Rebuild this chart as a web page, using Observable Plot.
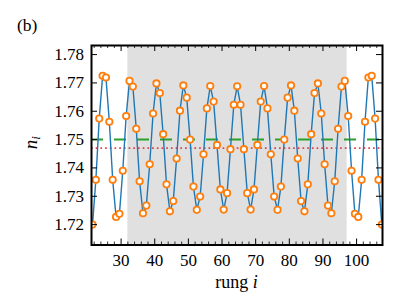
<!DOCTYPE html>
<html><head><meta charset="utf-8">
<script src="https://cdn.jsdelivr.net/npm/d3@7"></script>
<script src="https://cdn.jsdelivr.net/npm/@observablehq/plot@0.6"></script>
<style>body{margin:0;background:#fff}#chart{width:415px;height:305px}</style>
</head><body><div id="chart"></div>
<script>
const rungs = [21.5,22.5,23.5,24.5,25.5,26.5,27.5,28.5,29.5,30.5,31.5,32.5,33.5,34.5,35.5,36.5,37.5,38.5,39.5,40.5,
41.5,42.5,43.5,44.5,45.5,46.5,47.5,48.5,49.5,50.5,51.5,52.5,53.5,54.5,55.5,56.5,57.5,58.5,59.5,60.5,
61.5,62.5,63.5,64.5,65.5,66.5,67.5,68.5,69.5,70.5,71.5,72.5,73.5,74.5,75.5,76.5,77.5,78.5,79.5,80.5,
81.5,82.5,83.5,84.5,85.5,86.5,87.5,88.5,89.5,90.5,91.5,92.5,93.5,94.5,95.5,96.5,97.5,98.5,99.5,100.5,
101.5,102.5,103.5,104.5,105.5,106.5,107.5];
const density = [1.7200,1.7358,1.7574,1.7725,1.7719,1.7563,1.7358,1.7227,1.7238,1.7390,
1.7583,1.7707,1.7687,1.7538,1.7353,1.7240,1.7267,1.7413,1.7592,1.7698,
1.7664,1.7519,1.7342,1.7247,1.7283,1.7433,1.7602,1.7691,1.7648,1.7500,
1.7334,1.7252,1.7299,1.7448,1.7610,1.7689,1.7634,1.7481,1.7324,1.7253,
1.7311,1.7466,1.7623,1.7688,
1.7623,1.7466,1.7311,1.7253,1.7324,1.7481,1.7634,1.7689,1.7610,1.7448,
1.7299,1.7252,1.7334,1.7500,1.7648,1.7691,1.7602,1.7433,1.7283,1.7247,
1.7342,1.7519,1.7664,1.7698,1.7592,1.7413,1.7267,1.7240,1.7353,1.7538,
1.7687,1.7707,1.7583,1.7390,1.7238,1.7227,1.7358,1.7563,1.7719,1.7725,
1.7574,1.7358,1.7200];
const xMajorTicks = [30,40,50,60,70,80,90,100];
const xMinorTicks = [22,24,26,28,32,34,36,38,42,44,46,48,52,54,56,58,62,64,66,68,72,74,76,78,82,84,86,88,92,94,96,98,102,104,106];
const yTicks = [1.72,1.73,1.74,1.75,1.76,1.77,1.78];
const shadedRegion = [32, 97.2];
const targetDensity = 1.75;
const meanDensity = 1.747;

const data = rungs.map((x, i) => ({x, y: density[i]}));
const W = 415, H = 305, mL = 91, mR = 33, mT = 45, mB = 60.5;
const fH = H - mT - mB, fW = W - mL - mR;
const font = "Liberation Serif, serif";

const plot = Plot.plot({
  width: W, height: H,
  marginLeft: mL, marginRight: mR, marginTop: mT, marginBottom: mB,
  style: {fontFamily: font, background: "white", color: "black"},
  x: {domain: [21.2, 107.7]},
  y: {domain: [1.7128, 1.7832]},
  marks: [
    Plot.rect([shadedRegion], {x1: d => d[0], x2: d => d[1], fill: "#e0e0e0"}),
    Plot.ruleY([targetDensity], {stroke: "#2ca02c", strokeWidth: 2, strokeDasharray: "12,11"}),
    Plot.ruleY([meanDensity], {stroke: "#e0404a", strokeWidth: 1.8, strokeDasharray: "1.7,3"}),
    Plot.line(data, {x: "x", y: "y", stroke: "#1f77b4", strokeWidth: 1.4, clip: true}),
    Plot.dot(data, {x: "x", y: "y", r: 3.2, stroke: "#ff7f0e", strokeWidth: 1.8, fill: "white", clip: true}),
    Plot.tickX(xMajorTicks, {x: d => d, stroke: "black", strokeWidth: 1, insetTop: fH - 6}),
    Plot.tickX(xMajorTicks, {x: d => d, stroke: "black", strokeWidth: 1, insetBottom: fH - 6}),
    Plot.tickX(xMinorTicks, {x: d => d, stroke: "black", strokeWidth: 0.8, insetTop: fH - 3}),
    Plot.tickX(xMinorTicks, {x: d => d, stroke: "black", strokeWidth: 0.8, insetBottom: fH - 3}),
    Plot.tickY(yTicks, {y: d => d, stroke: "black", strokeWidth: 1, insetRight: fW - 6}),
    Plot.tickY(yTicks, {y: d => d, stroke: "black", strokeWidth: 1, insetLeft: fW - 6}),
    Plot.axisX({ticks: xMajorTicks, tickSize: 0, tickPadding: 8.5, tickFormat: d => String(d), label: null, fontSize: 17}),
    Plot.axisY({ticks: yTicks, tickSize: 0, tickPadding: 7.5, tickFormat: d3.format(".2f"), label: null, fontSize: 17}),
    Plot.frame({stroke: "black", strokeWidth: 2})
  ]
});

const svg = d3.select(plot);
svg.selectAll("text").attr("font-family", font);
svg.append("text").attr("x", 17).attr("y", 31).attr("text-anchor", "start")
  .attr("font-size", 17.5).attr("font-family", font).attr("fill", "black").text("(b)");
const xl = svg.append("text").attr("x", (mL + W - mR) / 2).attr("y", 288)
  .attr("text-anchor", "middle").attr("font-size", 18).attr("font-family", font).attr("fill", "black");
xl.append("tspan").text("rung ");
xl.append("tspan").attr("font-style", "italic").text("i");
const yl = svg.append("text").attr("transform", `translate(37,${mT + fH / 2 - 2}) rotate(-90)`)
  .attr("text-anchor", "middle").attr("font-size", 19).attr("font-family", font).attr("fill", "black");
yl.append("tspan").attr("font-style", "italic").text("n");
yl.append("tspan").attr("font-style", "italic").attr("font-size", 13).attr("dy", 3).text("i");
document.getElementById("chart").appendChild(plot);
</script>
</body></html>
